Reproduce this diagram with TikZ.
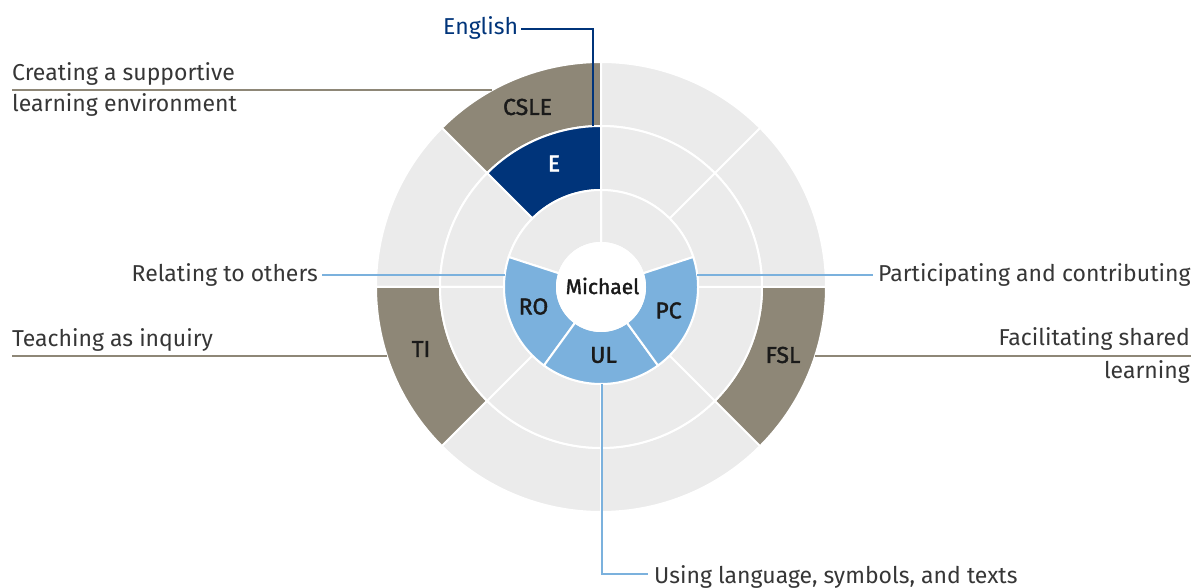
\documentclass[tikz,border=0pt]{standalone}
\usepackage{fontspec}
\setmainfont{Fira Sans}
\newfontfamily\medfont{Fira Sans}[FakeBold=1.6]
\usetikzlibrary{calc}
\definecolor{ringgray}{HTML}{EBEBEB}
\definecolor{taupe}{HTML}{8E8777}
\definecolor{navy}{HTML}{00347A}
\definecolor{skyblue}{HTML}{7BB1DD}
\definecolor{txtgray}{HTML}{363636}
\definecolor{labblack}{HTML}{1A1A1A}
\newcommand\mysector[5]{\path[seg, fill=#1] ($(C)+(#2:#4)$) -- ($(C)+(#2:#5)$) arc[start angle=#2, end angle=#3, radius=#5] -- ($(C)+(#3:#4)$) arc[start angle=#3, end angle=#2, radius=#4] -- cycle;}
\begin{document}
\begin{tikzpicture}[x=1pt,y=1pt,
  seg/.style={draw=white, line width=2pt},
  cat/.style={font=\fontsize{23}{23}\selectfont, text=txtgray, inner sep=0pt},
  lab/.style={font=\medfont\fontsize{23}{23}\selectfont, text=labblack, inner sep=0pt},
  leadtaupe/.style={draw=taupe, line width=2pt},
  leadnavy/.style={draw=navy, line width=2pt},
  leadsky/.style={draw=skyblue, line width=2pt}]
\useasboundingbox (0,0) rectangle (1193,588);
\coordinate (C) at (601,301);
% outer ring
\mysector{taupe}{90}{135}{161}{225}
\mysector{ringgray}{135}{180}{161}{225}
\mysector{taupe}{180}{225}{161}{225}
\mysector{ringgray}{225}{270}{161}{225}
\mysector{ringgray}{270}{315}{161}{225}
\mysector{taupe}{315}{360}{161}{225}
\mysector{ringgray}{0}{45}{161}{225}
\mysector{ringgray}{45}{90}{161}{225}
% middle ring
\mysector{navy}{90}{135}{97}{161}
\mysector{ringgray}{135}{180}{97}{161}
\mysector{ringgray}{180}{225}{97}{161}
\mysector{ringgray}{225}{270}{97}{161}
\mysector{ringgray}{270}{315}{97}{161}
\mysector{ringgray}{315}{360}{97}{161}
\mysector{ringgray}{0}{45}{97}{161}
\mysector{ringgray}{45}{90}{97}{161}
% inner ring
\mysector{ringgray}{18}{90}{44}{97}
\mysector{ringgray}{90}{162}{44}{97}
\mysector{skyblue}{162}{234}{44}{97}
\mysector{skyblue}{234}{306}{44}{97}
\mysector{skyblue}{306}{378}{44}{97}
\path[seg, fill=white] (C) circle[radius=44];
% category texts
\node[cat, text=navy, anchor=west] (eng) at (443,560) {English};
\node[cat, anchor=west] (csle1) at (12,514) {Creating a supportive};
\node[cat, anchor=west] (csle2) at (12,483) {learning environment};
\node[cat, anchor=east] (rot) at (318,313) {Relating to others};
\node[cat, anchor=west] (pct) at (878,313) {Participating and contributing};
\node[cat, anchor=west] (tit) at (12,248) {Teaching as inquiry};
\node[cat, anchor=east] (fsl1) at (1190,249) {Facilitating shared};
\node[cat, anchor=east] (fsl2) at (1190,216) {learning};
\node[cat, anchor=west] (ult) at (654,11) {Using language, symbols, and texts};
% leader end points
\coordinate (Etop) at (593,462);
\coordinate (csleL) at (12,498);
\coordinate (csleR) at (492.3,498);
\coordinate (roR) at (504.7,313);
\coordinate (pcL) at (697.3,313);
\coordinate (tiL) at (12,232);
\coordinate (tiR) at (386.8,232);
\coordinate (fslL) at (815.2,232);
\coordinate (fslR) at (1191,232);
\coordinate (ulTop) at (602,204);
\coordinate (ulBot) at (602,14);
% leader lines
\draw[leadnavy] ([xshift=3pt,yshift=-1pt]eng.east) -| (Etop);
\draw[leadtaupe] (csleL) -- (csleR);
\draw[leadsky] ([xshift=4pt]rot.east) -- (roR);
\draw[leadsky] (pcL) -- ([xshift=-5pt]pct.west);
\draw[leadtaupe] (tiL) -- (tiR);
\draw[leadtaupe] (fslL) -- (fslR);
\draw[leadsky] (ulTop) -- (ulBot) -- ([xshift=-6pt,yshift=3pt]ult.west);
% segment labels
\node[lab] (lcsle) at (527.5,481) {CSLE};
\node[lab, text=white] (le) at (554,424.5) {E};
\node[lab] (lti) at (421,239) {TI};
\node[lab] (lfsl) at (783,233) {FSL};
\node[lab] (lro) at (533.5,281.5) {RO};
\node[lab] (lpc) at (668.5,277.5) {PC};
\node[lab] (lul) at (603.5,233) {UL};
\node[lab, font=\medfont\fontsize{21}{21}\selectfont] (lmi) at (602.5,302) {Michael};
\end{tikzpicture}
\end{document}
